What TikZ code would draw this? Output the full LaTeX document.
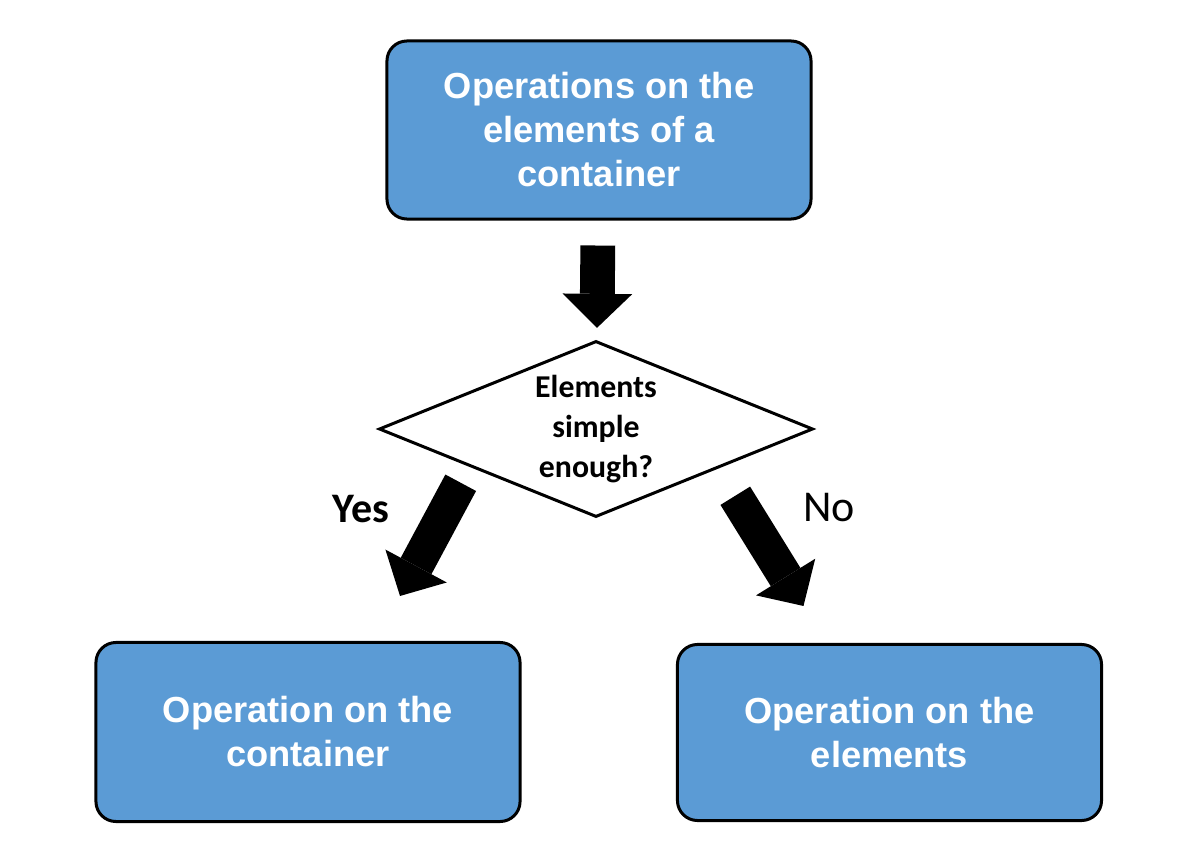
\documentclass[tikz,border=0pt]{standalone}
\usepackage{fontspec}
\setmainfont{Carlito}
\newfontfamily\arialfont{Liberation Sans}
\usepackage{tikz}
\usetikzlibrary{calc}
\usetikzlibrary{positioning,shapes.geometric}
\usetikzlibrary{arrows.meta}
\definecolor{boxblue}{RGB}{91,155,213}
\tikzset{
  opbox/.style={draw=black, fill=boxblue, line width=0.075cm, rounded corners=0.5cm,
    minimum width=10.6cm, minimum height=4.45cm, align=center, text=white,
    font=\arialfont\bfseries\fontsize{25.8pt}{31.3pt}\selectfont},
  question/.style={draw=black, fill=white, diamond, aspect=2.47, inner sep=0pt,
    line width=0.075cm, minimum width=10.85cm, minimum height=4.4cm, align=center,
    font=\bfseries\fontsize{22.6pt}{28.4pt}\selectfont},
  fat arrow/.style={line width=0.87cm, black,
    -{Triangle[length=0.85cm, width=1.74cm, line width=0pt]}},
}
\begin{document}
\begin{tikzpicture}[x=0.025cm, y=-0.025cm]
  \useasboundingbox (0,0) rectangle (1192,860);
  \node[opbox] (ops) at (599,130) {Operations on the\\elements of a\\container};
  \node[question] (simple) at (596,429) {Elements\\simple\\enough?};
  \node[opbox, minimum height=4.475cm] (cont) at (308,732) {Operation on the\\container};
  \node[opbox, minimum height=4.4cm] (elem) at (889.5,732.5) {Operation on the\\elements};
  \node[anchor=base, font=\bfseries\fontsize{29.9pt}{36pt}\selectfont] (yes) at (361,522) {Yes};
  \node[anchor=base, font=\fontsize{31.3pt}{36pt}\selectfont] (no) at (829,521) {No};
  \coordinate (yes tail) at ([shift={(-26,9)}]simple.south west);
  \coordinate (yes tip) at ([shift={(92,-45)}]cont.north);
  \coordinate (no tail) at ([shift={(30,22)}]simple.south east);
  \coordinate (no tip) at ([shift={(-86,-37)}]elem.north);
  \draw[fat arrow, shorten <=0.625cm, shorten >=0.3cm] (ops) -- (simple);
  \draw[fat arrow] (yes tail) -- (yes tip);
  \draw[fat arrow] (no tail) -- (no tip);
\end{tikzpicture}
\end{document}
